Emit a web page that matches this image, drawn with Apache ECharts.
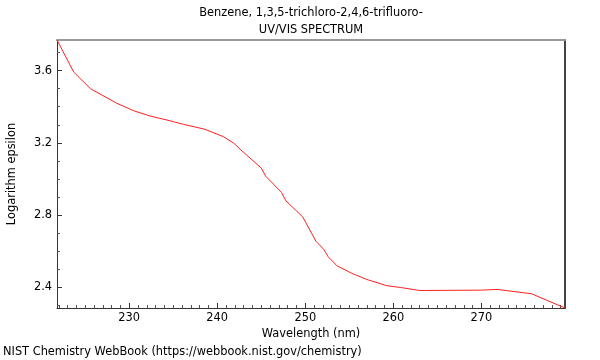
<!DOCTYPE html>
<html>
<head>
<meta charset="utf-8">
<script src="https://cdn.jsdelivr.net/npm/echarts@6/dist/echarts.min.js"></script>
<style>html,body{margin:0;padding:0;background:#fff}#c{width:600px;height:360px}</style>
</head>
<body>
<div id="c"></div>
<script>
const wavelength = [221.8, 223.7, 225.6, 228.6, 230.5, 232.4, 234.3, 236.2, 238.6, 240.7, 241.9, 242.6, 245.0, 245.5, 247.3, 247.8, 249.7, 251.2, 252.1, 252.6, 253.6, 255.3, 257.0, 259.3, 260.8, 263.0, 269.9, 271.8, 275.7, 279.5];
const logEpsilon = [3.770, 3.592, 3.500, 3.419, 3.378, 3.348, 3.326, 3.302, 3.275, 3.234, 3.197, 3.164, 3.060, 3.015, 2.925, 2.878, 2.790, 2.655, 2.609, 2.568, 2.518, 2.476, 2.442, 2.407, 2.398, 2.381, 2.383, 2.387, 2.363, 2.284];
const xMin = 221.8, xMax = 279.5;
const yMin = 2.284, yMax = 3.770;
const xMajorTicks = [230, 240, 250, 260, 270];
const xMinorTicks = [222,223,224,225,226,227,228,229,231,232,233,234,235,236,237,238,239,241,242,243,244,245,246,247,248,249,251,252,253,254,255,256,257,258,259,261,262,263,264,265,266,267,268,269,271,272,273,274,275,276,277,278,279];
const yMajorTicks = [2.4, 2.8, 3.2, 3.6];
const yMinorTicks = [2.3, 2.5, 2.6, 2.7, 2.9, 3.0, 3.1, 3.3, 3.4, 3.5, 3.7];
const titleLines = ['Benzene, 1,3,5-trichloro-2,4,6-trifluoro-', 'UV/VIS SPECTRUM'];
const xName = 'Wavelength (nm)';
const yName = 'Logarithm epsilon';
const footer = 'NIST Chemistry WebBook (https://webbook.nist.gov/chemistry)';

const FONT = 'DejaVu Sans';
const FS = 11.4;
const chart = echarts.init(document.getElementById('c'), null, {renderer: 'canvas'});
const common = {type: 'value', splitLine: {show: false}};
chart.setOption({
  animation: false,
  textStyle: {fontFamily: FONT},
  grid: {left: 57, right: 35, top: 40, bottom: 52, containLabel: false, outerBoundsMode: 'none'},
  graphic: [
    {type: 'text', x: 311, y: 13, style: {text: titleLines[0], textAlign: 'center', textVerticalAlign: 'middle', font: FS + 'px "DejaVu Sans"', fill: '#000'}},
    {type: 'text', x: 311, y: 30, style: {text: titleLines[1], textAlign: 'center', textVerticalAlign: 'middle', font: FS + 'px "DejaVu Sans"', fill: '#000'}},
    {type: 'text', x: 3, y: 352, style: {text: footer, textAlign: 'left', textVerticalAlign: 'middle', font: FS + 'px "DejaVu Sans"', fill: '#000'}}
  ],
  xAxis: [
    Object.assign({}, common, {
      position: 'bottom', min: xMin, max: xMax,
      axisLine: {show: true, lineStyle: {color: '#333', width: 1}},
      axisTick: {show: true, inside: true, length: 5, customValues: xMajorTicks, lineStyle: {color: '#333'}},
      axisLabel: {show: true, customValues: xMajorTicks, color: '#000', fontSize: FS, fontFamily: FONT, margin: 5},
      name: xName, nameLocation: 'middle', nameGap: 21,
      nameTextStyle: {color: '#000', fontSize: FS, fontFamily: FONT}
    }),
    Object.assign({}, common, {
      position: 'bottom', min: xMin, max: xMax,
      axisLine: {show: false},
      axisTick: {show: true, inside: true, length: 3, customValues: xMinorTicks, lineStyle: {color: '#555'}},
      axisLabel: {show: false}
    }),
    Object.assign({}, common, {
      position: 'top', min: xMin, max: xMax,
      axisLine: {show: true, lineStyle: {color: '#999', width: 2}},
      axisTick: {show: false}, axisLabel: {show: false}
    })
  ],
  yAxis: [
    Object.assign({}, common, {
      position: 'left', min: yMin, max: yMax,
      axisLine: {show: true, lineStyle: {color: '#333', width: 1}},
      axisTick: {show: true, inside: true, length: 5, customValues: yMajorTicks, lineStyle: {color: '#333'}},
      axisLabel: {show: true, customValues: yMajorTicks, color: '#000', fontSize: FS, fontFamily: FONT, margin: 5,
        formatter: v => v.toFixed(1)},
      name: yName, nameLocation: 'middle', nameGap: 39,
      nameTextStyle: {color: '#000', fontSize: FS, fontFamily: FONT}
    }),
    Object.assign({}, common, {
      position: 'left', min: yMin, max: yMax,
      axisLine: {show: false},
      axisTick: {show: true, inside: true, length: 3, customValues: yMinorTicks, lineStyle: {color: '#555'}},
      axisLabel: {show: false}
    }),
    Object.assign({}, common, {
      position: 'right', min: yMin, max: yMax,
      axisLine: {show: true, lineStyle: {color: '#444', width: 2}},
      axisTick: {show: false}, axisLabel: {show: false}
    })
  ],
  series: [{
    type: 'line', xAxisIndex: 0, yAxisIndex: 0,
    data: wavelength.map((w, i) => [w, logEpsilon[i]]),
    showSymbol: false, symbol: 'none',
    lineStyle: {color: '#ff2020', width: 1},
    clip: true
  }]
});
</script>
</body>
</html>
